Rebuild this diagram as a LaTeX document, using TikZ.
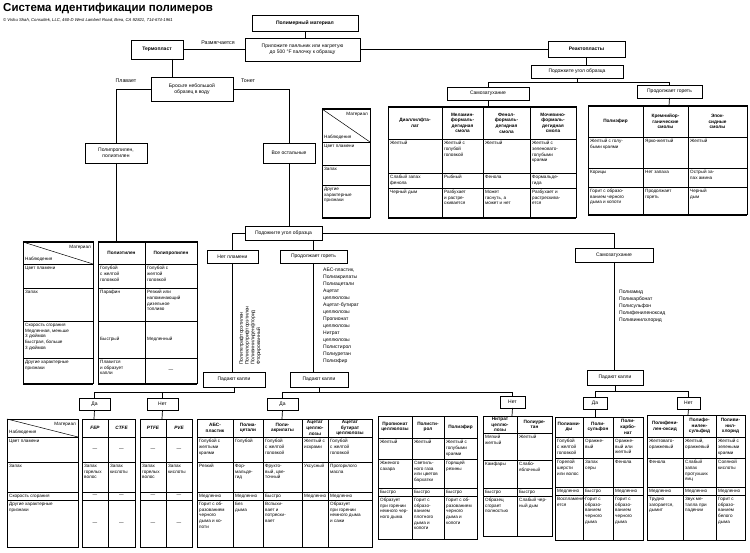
\documentclass[tikz,border=0pt]{standalone}
\usepackage{fontspec}
\setmainfont{Liberation Sans}
\newcommand\fs{\fontsize{4.6}{5.7}\selectfont}
\newcommand\fsb{\fontsize{4.7}{5.6}\selectfont\bfseries}
\tikzset{
 box/.style={draw, line width=0.9pt, fill=white, font=\fontsize{5}{6}\selectfont, align=center, inner sep=1pt, outer sep=0pt},
 ln/.style={line width=0.7pt},
 tabout/.style={line width=1pt},
 tabin/.style={line width=0.5pt},
 ct/.style={font=\fs, align=left, inner sep=0pt, anchor=north west},
 ch/.style={font=\fsb, align=center, inner sep=0pt},
 cc/.style={font=\fs, align=center, inner sep=0pt},
 lbl/.style={font=\fontsize{5.3}{6.3}\selectfont, inner sep=0pt},
}
\newcommand\mktab[3]{%
 \foreach \v [count=\i] in {#2}{\expandafter\xdef\csname #1x\i\endcsname{\v}\xdef\tnx{\i}}%
 \foreach \v [count=\i] in {#3}{\expandafter\xdef\csname #1y\i\endcsname{\v}\xdef\tny{\i}}%
 \edef\tXa{\csname #1x1\endcsname}\edef\tXb{\csname #1x\tnx\endcsname}%
 \edef\tYa{\csname #1y1\endcsname}\edef\tYb{\csname #1y\tny\endcsname}%
 \foreach \v in {#2}{\draw[tabin] (\v,\tYa) -- (\v,\tYb);}%
 \foreach \v in {#3}{\draw[tabin] (\tXa,\v) -- (\tXb,\v);}%
 \draw[tabout] (\tXa,\tYa) rectangle (\tXb,\tYb);}
\newcommand\cel[4]{\node[ct] at ({\csname #1x#2\endcsname+2},{\csname #1y#3\endcsname+2}) {#4};}
\newcommand\celm[4]{\node[ct,anchor=west] at ({\csname #1x#2\endcsname+2},{(\csname #1y#3\endcsname+\csname #1y\the\numexpr#3+1\relax\endcsname)/2}) {#4};}
\newcommand\celx[5]{\node[#2] at ({(\csname #1x#3\endcsname+\csname #1x\the\numexpr#3+1\relax\endcsname)/2},{(\csname #1y#4\endcsname+\csname #1y\the\numexpr#4+1\relax\endcsname)/2}) {#5};}
\newcommand\diag[1]{%
 \draw[tabin] (\csname #1x1\endcsname,\csname #1y1\endcsname) -- (\csname #1x2\endcsname,\csname #1y2\endcsname);
 \node[ct,anchor=north east] at ({\csname #1x2\endcsname-2},{\csname #1y1\endcsname+3}) {Материал};
 \node[ct,anchor=south west] at ({\csname #1x1\endcsname+2},{\csname #1y2\endcsname-2}) {Наблюдения};}
\newcommand\bx[6]{\node[box, minimum width={#4-#2}, minimum height={#5-#3}] (#1) at ({(#2+#4)/2},{(#3+#5)/2}) {#6};}
\begin{document}
\begin{tikzpicture}[x=1pt,y=-1pt]
\useasboundingbox[fill=white] (0,0) rectangle (750,553);
\node[anchor=north west, inner sep=0pt, font=\fontsize{11.5}{13}\selectfont\bfseries] (title) at (3,3) {Система идентификации полимеров};
\node[anchor=north west, inner sep=0pt, font=\fontsize{4.2}{5}\selectfont\itshape] (copy) at (3,18) {© Vishu Shah, Consultek, LLC, 460-D West Lambert Road, Brea, CA 92821, 714-674-1961};
% top boxes
\bx{pm}{252}{15}{358}{31}{\textbf{Полимерный материал}}
\bx{pr}{245}{38}{360}{61}{Приложите паяльник или нагретую\\до 500 °F палочку к образцу}
\bx{tp}{131}{40}{183}{59}{\textbf{Термопласт}}
\bx{rp}{548}{41}{625}{57}{\textbf{Реактопласты}}
\bx{pu1}{531}{65}{623}{78}{Подожките угол образца}
\bx{sz1}{447}{87}{529}{100}{Самозатухание}
\bx{pg1}{637}{85}{702}{98}{Продолжает гореть}
\bx{bw}{151}{77}{233}{101}{Бросьте небольшой\\образец в воду}
\bx{ppe}{85}{143}{147}{163}{Полипропилен,\\полиэтилен}
\bx{vo}{263}{143}{315}{163}{Все остальные}
\bx{pu2}{245}{226}{322}{240}{Подожките угол образца}
\bx{np}{207}{250}{258}{263}{Нет пламени}
\bx{pg2}{280}{250}{347}{263}{Продолжает гореть}
\bx{sz2}{575}{248}{653}{262}{Самозатухание}
\bx{pk1}{203}{372}{265}{387}{Падают капли}
\bx{pk2}{290}{372}{348}{387}{Падают капли}
\bx{pk3}{587}{370}{643}{385}{Падают капли}
\bx{da1}{79}{398}{110}{410}{Да}
\bx{net1}{147}{398}{178}{410}{Нет}
\bx{da2}{267}{398}{298}{410}{Да}
\bx{net2}{500}{396}{525}{408}{Нет}
\bx{da3}{583}{397}{607}{409}{Да}
\bx{net3}{677}{397}{700}{409}{Нет}
\node[lbl] (razm) at (218,43) {Размягчается};
\node[lbl] (plav) at (126,81) {Плавает};
\node[lbl] (ton) at (248,81) {Тонет};
% coordinates
\coordinate (b1) at (0,82);
\coordinate (x172) at (172,0);
\coordinate (y392) at (0,392);
\coordinate (y391) at (0,391);
\coordinate (t1n) at (488,107);
\coordinate (t2n) at (669,106);
\coordinate (pet) at (116,242);
\coordinate (fept) at (94,419);
\coordinate (ptft) at (162,419);
\coordinate (midt) at (282,419);
\coordinate (nitt) at (512,416);
\coordinate (dat) at (595,417);
\coordinate (nett) at (688,415);
% connectors
\draw[ln] (pm.south) -- (pm.south |- pr.north);
\draw[ln] (tp.east) -- (tp.east -| pr.west);
\draw[ln] (pr.east) -- (pr.east -| rp.west);
\draw[ln] (rp.south) -- (rp.south |- pu1.north);
\draw[ln] (pu1.south) -- (pu1.south |- b1);
\draw[ln] (sz1.north) |- (pg1.north |- b1) -- (pg1.north);
\draw[ln] (sz1.south) -- (t1n);
\draw[ln] (pg1.south) -- (t2n);
\draw[ln] (x172 |- tp.south) -- (x172 |- bw.north);
\draw[ln] (bw.west) -| (ppe.north);
\draw[ln] (bw.east) -| (vo.north);
\draw[ln] (ppe.south) -- (pet);
\draw[ln] (vo.south) -- (vo.south |- pu2.north);
\draw[ln] (pu2.west) -| (np.north);
\draw[ln] (pu2.south -| pg2.north) -- (pg2.north);
\draw[ln] (pu2.east) -| (sz2.north);
\draw[ln] (np.south) -- (np.south |- pk1.north);
\draw[ln] (pg2.south) -- (pg2.south |- pk2.north);
\draw[ln] (sz2.south) -- (sz2.south |- pk3.north);
\draw[ln] (pk1.south) -- (pk1.south |- y392) -| (da1.north);
\draw[ln] (net1.north) -- (net1.north |- y392);
\draw[ln] (pk2.south) -- (pk2.south |- y392);
\draw[ln] (da2.north) |- (net2.north |- y392) -- (net2.north);
\draw[ln] (pk3.south) -- (pk3.south |- y391);
\draw[ln] (da3.north) |- (net3.north |- y391) -- (net3.north);
\draw[ln] (da1.south) -- (fept);
\draw[ln] (net1.south) -- (ptft);
\draw[ln] (da2.south) -- (midt);
\draw[ln] (net2.south) -- (nitt);
\draw[ln] (da3.south) -- (dat);
\draw[ln] (net3.south) -- (nett);
% lists
\node[ct, font=\fontsize{5}{5.8}\selectfont, rotate=90, anchor=north west] (ftor) at (239,365) {Политетрафторэтилен\\Полихлортрифторэтилен\\Поливинилиденфторид\\Фторированный};
\node[ct, font=\fontsize{5}{7}\selectfont] (list2) at (323,268) {АБС-пластик,\\Полиакрилаты\\Полиацетали\\Ацетат\\целлюлозы\\Ацетат-бутират\\целлюлозы\\Пропионат\\целлюлозы\\Нитрат\\целлюлозы\\Полистирол\\Полиуретан\\Полиэфир};
\node[ct, font=\fontsize{5}{7}\selectfont] (list3) at (619,290) {Полиамид\\Поликарбонат\\Полисульфон\\Полифениленоксид\\Поливинилхлорид};
% ===== top legend
\mktab{A}{322,370}{109,142,165,185,218}
\diag{A}
\cel{A}{1}{2}{Цвет пламени}
\cel{A}{1}{3}{Запах}
\cel{A}{1}{4}{Другие\\характерные\\признаки}
% ===== table 1
\mktab{B}{388,442,483,530,576}{107,139,173,188,218}
\celx{B}{ch}{1}{1}{Диаллилфта-\\лат}
\celx{B}{ch}{2}{1}{Меламин-\\формаль-\\дегидная\\смола}
\celx{B}{ch}{3}{1}{Фенол-\\формаль-\\дегидная\\смола}
\celx{B}{ch}{4}{1}{Мочевино-\\формаль-\\дегидная\\смола}
\cel{B}{1}{2}{Желтый}
\cel{B}{2}{2}{Желтый с\\голубой\\головкой}
\cel{B}{3}{2}{Желтый}
\cel{B}{4}{2}{Желтый с\\зеленовато-\\голубыми\\краями}
\cel{B}{1}{3}{Слабый запах\\фенола}
\cel{B}{2}{3}{Рыбный}
\cel{B}{3}{3}{Фенола}
\cel{B}{4}{3}{Формальде-\\гида}
\cel{B}{1}{4}{Черный дым}
\cel{B}{2}{4}{Разбухает\\и растре-\\скивается}
\cel{B}{3}{4}{Может\\гаснуть, а\\может и нет}
\cel{B}{4}{4}{Разбухает и\\растрескива-\\ется}
% ===== table 2
\mktab{C}{588,643,688,747}{106,137,168,187,215}
\celx{C}{ch}{1}{1}{Полиэфир}
\celx{C}{ch}{2}{1}{Кремнийор-\\ганические\\смолы}
\celx{C}{ch}{3}{1}{Эпок-\\сидные\\смолы}
\cel{C}{1}{2}{Желтый с голу-\\быми краями}
\cel{C}{2}{2}{Ярко-желтый}
\cel{C}{3}{2}{Желтый}
\cel{C}{1}{3}{Корицы}
\cel{C}{2}{3}{Нет запаха}
\cel{C}{3}{3}{Острый за-\\пах амина}
\cel{C}{1}{4}{Горит с образо-\\ванием черного\\дыма и копоти}
\cel{C}{2}{4}{Продолжает\\гореть}
\cel{C}{3}{4}{Черный\\дым}
% ===== L1 legend
\mktab{D}{23,93}{242,264,288,321,358,384}
\diag{D}
\cel{D}{1}{2}{Цвет пламени}
\cel{D}{1}{3}{Запах}
\cel{D}{1}{4}{Скорость сгорания\\Медленная, меньше\\3 дюймов\\Быстрая, больше\\3 дюймов}
\cel{D}{1}{5}{Другие характерные\\признаки}
% ===== PE
\mktab{E}{98,145,197}{242,264,288,321,358,384}
\celx{E}{ch}{1}{1}{Полиэтилен}
\celx{E}{ch}{2}{1}{Полипропилен}
\cel{E}{1}{2}{Голубой\\с желтой\\головкой}
\cel{E}{2}{2}{Голубой с\\желтой\\головкой}
\cel{E}{1}{3}{Парафин}
\cel{E}{2}{3}{Резкий или\\напоминающий\\дизельное\\топливо}
\celm{E}{1}{4}{Быстрый}
\celm{E}{2}{4}{Медленный}
\cel{E}{1}{5}{Плавится\\и образует\\капли}
\celx{E}{cc}{2}{5}{—}
% ===== L2 legend
\mktab{F}{7,78}{419,437,462,492,500,547}
\diag{F}
\cel{F}{1}{2}{Цвет пламени}
\cel{F}{1}{3}{Запах}
\cel{F}{1}{4}{Скорость сгорания}
\cel{F}{1}{5}{Другие характерные\\признаки}
% ===== FEP
\mktab{G}{82,108,135}{419,437,462,492,500,547}
\celx{G}{ch}{1}{1}{\itshape FEP}
\celx{G}{ch}{2}{1}{\itshape CTFE}
\celx{G}{cc}{1}{2}{—}\celx{G}{cc}{2}{2}{—}
\cel{G}{1}{3}{Запах\\горелых\\волос}
\cel{G}{2}{3}{Запах\\кислоты}
\celx{G}{cc}{1}{4}{—}\celx{G}{cc}{2}{4}{—}
\celx{G}{cc}{1}{5}{—}\celx{G}{cc}{2}{5}{—}
% ===== PTFE
\mktab{H}{140,166,192}{419,437,462,492,500,547}
\celx{H}{ch}{1}{1}{\itshape PTFE}
\celx{H}{ch}{2}{1}{\itshape PVE}
\celx{H}{cc}{1}{2}{—}\celx{H}{cc}{2}{2}{—}
\cel{H}{1}{3}{Запах\\горелых\\волос}
\cel{H}{2}{3}{Запах\\кислоты}
\celx{H}{cc}{1}{4}{—}\celx{H}{cc}{2}{4}{—}
\celx{H}{cc}{1}{5}{—}\celx{H}{cc}{2}{5}{—}
% ===== mid group
\mktab{I}{197,233,263,302,328,372}{419,437,462,492,500,547}
\celx{I}{ch}{1}{1}{АБС-\\пластик}
\celx{I}{ch}{2}{1}{Полиа-\\цетали}
\celx{I}{ch}{3}{1}{Поли-\\акрилаты}
\celx{I}{ch}{4}{1}{Ацетат\\целлю-\\лозы}
\celx{I}{ch}{5}{1}{Ацетат\\бутират\\целлюлозы}
\cel{I}{1}{2}{Голубой с\\желтыми\\краями}
\cel{I}{2}{2}{Голубой}
\cel{I}{3}{2}{Голубой\\с желтой\\головкой}
\cel{I}{4}{2}{Желтый с\\искрами}
\cel{I}{5}{2}{Голубой\\с желтой\\головкой}
\cel{I}{1}{3}{Резкий}
\cel{I}{2}{3}{Фор-\\мальде-\\гид}
\cel{I}{3}{3}{Фрукто-\\вый, цве-\\точный}
\cel{I}{4}{3}{Уксусный}
\cel{I}{5}{3}{Прогорклого\\масла}
\cel{I}{1}{4}{Медленно}
\cel{I}{2}{4}{Медленно}
\cel{I}{3}{4}{Быстро}
\cel{I}{4}{4}{Медленно}
\cel{I}{5}{4}{Медленно}
\cel{I}{1}{5}{Горит с об-\\разованием\\черного\\дыма и ко-\\поти}
\cel{I}{2}{5}{Без\\дыма}
\cel{I}{3}{5}{Вспыхи-\\вает и\\потрески-\\вает}
\cel{I}{5}{5}{Образует\\при горении\\немного дыма\\и сажи}
% ===== propionat group
\mktab{J}{378,412,444,477}{416,438,459,488,496,539}
\celx{J}{ch}{1}{1}{Пропионат\\целлюлозы}
\celx{J}{ch}{2}{1}{Полисти-\\рол}
\celx{J}{ch}{3}{1}{Полиэфир}
\cel{J}{1}{2}{Желтый}
\cel{J}{2}{2}{Желтый}
\cel{J}{3}{2}{Желтый с\\голубыми\\краями}
\cel{J}{1}{3}{Жженого\\сахара}
\cel{J}{2}{3}{Светиль-\\ного газа\\или цветов\\бархатки}
\cel{J}{3}{3}{Горящей\\резины}
\cel{J}{1}{4}{Быстро}
\cel{J}{2}{4}{Быстро}
\cel{J}{3}{4}{Быстро}
\cel{J}{1}{5}{Образует\\при горении\\немного чер-\\ного дыма}
\cel{J}{2}{5}{Горит с\\образо-\\ванием\\плотного\\дыма и\\копоти}
\cel{J}{3}{5}{Горит с об-\\разованием\\черного\\дыма и\\копоти}
% ===== nitrat
\mktab{K}{483,517,552}{416,433,460,488,496,536}
\celx{K}{ch}{1}{1}{Нитрат\\целлю-\\лозы}
\celx{K}{ch}{2}{1}{Полиуре-\\тан}
\cel{K}{1}{2}{Мягкий\\желтый}
\cel{K}{2}{2}{Желтый}
\cel{K}{1}{3}{Камфары}
\cel{K}{2}{3}{Слабо-\\яблочный}
\cel{K}{1}{4}{Быстро}
\cel{K}{2}{4}{Быстро}
\cel{K}{1}{5}{Образец\\сгорает\\полностью}
\cel{K}{2}{5}{Слабый чер-\\ный дым}
% ===== da group
\mktab{L}{555,583,613,643}{417,437,458,487,495,540}
\celx{L}{ch}{1}{1}{Полиами-\\ды}
\celx{L}{ch}{2}{1}{Поли-\\сульфон}
\celx{L}{ch}{3}{1}{Поли-\\карбо-\\нат}
\cel{L}{1}{2}{Голубой\\с желтой\\головкой}
\cel{L}{2}{2}{Оранже-\\вый}
\cel{L}{3}{2}{Оранже-\\вый или\\желтый}
\cel{L}{1}{3}{Горелой\\шерсти\\или волос}
\cel{L}{2}{3}{Запах\\серы}
\cel{L}{3}{3}{Фенола}
\cel{L}{1}{4}{Медленно}
\cel{L}{2}{4}{Быстро}
\cel{L}{3}{4}{Медленно}
\cel{L}{1}{5}{Воспламеня-\\ется}
\cel{L}{2}{5}{Горит с\\образо-\\ванием\\черного\\дыма}
\cel{L}{3}{5}{Горит с\\образо-\\ванием\\черного\\дыма}
% ===== net group
\mktab{M}{647,683,716,745}{415,437,458,487,495,540}
\celx{M}{ch}{1}{1}{Полифени-\\лен-оксид}
\celx{M}{ch}{2}{1}{Полифе-\\нилен-\\сульфид}
\celx{M}{ch}{3}{1}{Поливи-\\нил-\\хлорид}
\cel{M}{1}{2}{Желтовато-\\оранжевый}
\cel{M}{2}{2}{Желтый,\\оранжевый}
\cel{M}{3}{2}{Желтый с\\зелеными\\краями}
\cel{M}{1}{3}{Фенола}
\cel{M}{2}{3}{Слабый\\запах\\протухших\\яиц}
\cel{M}{3}{3}{Соляной\\кислоты}
\cel{M}{1}{4}{Медленно}
\cel{M}{2}{4}{Медленно}
\cel{M}{3}{4}{Медленно}
\cel{M}{1}{5}{Трудно\\загорается,\\дымит}
\cel{M}{2}{5}{Звук ме-\\талла при\\падении}
\cel{M}{3}{5}{Горит с\\образо-\\ванием\\белого\\дыма}
\end{tikzpicture}
\end{document}
